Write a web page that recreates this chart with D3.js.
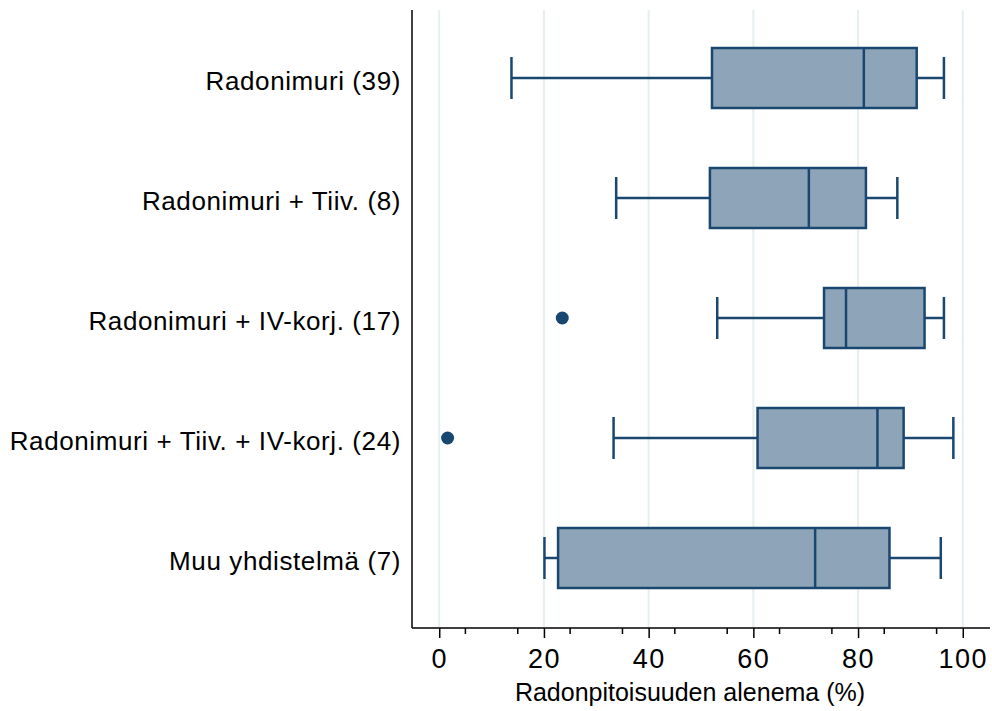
<!DOCTYPE html>
<html>
<head>
<meta charset="utf-8">
<script src="https://cdn.jsdelivr.net/npm/d3@7"></script>
<style>
  body { margin: 0; background: #fff; }
  text { font-family: "Liberation Sans", Arial, sans-serif; fill: #000; }
</style>
</head>
<body>
<svg width="992" height="711"></svg>
<script>

// groups, top to bottom
const categories = [
    "Radonimuri (39)",
    "Radonimuri + Tiiv. (8)",
    "Radonimuri + IV-korj. (17)",
    "Radonimuri + Tiiv. + IV-korj. (24)",
    "Muu yhdistelmä (7)"
];
const whiskerLow  = [13.8, 33.8, 53.1, 33.3, 20.1];
const q1          = [52.1, 51.7, 73.5, 60.8, 22.7];
const median      = [81.1, 70.6, 77.7, 83.7, 71.8];
const q3          = [91.2, 81.5, 92.7, 88.7, 86.0];
const whiskerHigh = [96.4, 87.5, 96.4, 98.2, 95.8];
const outliers    = [[], [], [23.5], [1.6], []];

const xTicks = [0, 20, 40, 60, 80, 100];
const xTitle = "Radonpitoisuuden alenema (%)";

const navy = "#1a476f";
const fill = "#8ea4b8";

const data = categories.map((c, i) => ({
    name: c,
    lo: whiskerLow[i], q1: q1[i], med: median[i], q3: q3[i], hi: whiskerHigh[i],
    out: outliers[i]
}));

const svg = d3.select("svg");
const plotLeft = 412, plotRight = 990, plotTop = 10, plotBottom = 628;

const xScale = d3.scaleLinear().domain([-5.2, 105.2]).range([plotLeft, plotRight]);
const yScale = d3.scaleBand()
    .domain(categories)
    .range([18, 618])
    .paddingInner(0.5)
    .paddingOuter(0.25);

// grid
svg.append("g")
    .selectAll("line")
    .data(xTicks)
    .enter()
    .append("line")
    .attr("x1", (d) => xScale(d))
    .attr("x2", (d) => xScale(d))
    .attr("y1", plotTop)
    .attr("y2", plotBottom)
    .attr("stroke", "#e5eef0")
    .attr("stroke-width", 2);

const boxes = svg.append("g")
    .selectAll("g")
    .data(data)
    .enter()
    .append("g")
    .attr("transform", (d) => `translate(0,${yScale(d.name)})`);

const bw = yScale.bandwidth();
const cap = bw * 0.35;

// whiskers
boxes.append("line")
    .attr("x1", (d) => xScale(d.lo))
    .attr("x2", (d) => xScale(d.q1))
    .attr("y1", bw / 2).attr("y2", bw / 2)
    .attr("stroke", navy).attr("stroke-width", 2.5);
boxes.append("line")
    .attr("x1", (d) => xScale(d.q3))
    .attr("x2", (d) => xScale(d.hi))
    .attr("y1", bw / 2).attr("y2", bw / 2)
    .attr("stroke", navy).attr("stroke-width", 2.5);
boxes.selectAll(".cap")
    .data((d) => [d.lo, d.hi])
    .enter()
    .append("line")
    .attr("class", "cap")
    .attr("x1", (v) => xScale(v))
    .attr("x2", (v) => xScale(v))
    .attr("y1", bw / 2 - cap)
    .attr("y2", bw / 2 + cap)
    .attr("stroke", navy).attr("stroke-width", 2.5);

// box
boxes.append("rect")
    .attr("x", (d) => xScale(d.q1))
    .attr("y", 0)
    .attr("width", (d) => xScale(d.q3) - xScale(d.q1))
    .attr("height", bw)
    .attr("fill", fill)
    .attr("stroke", navy)
    .attr("stroke-width", 2.5);

boxes.append("line")
    .attr("x1", (d) => xScale(d.med))
    .attr("x2", (d) => xScale(d.med))
    .attr("y1", 0).attr("y2", bw)
    .attr("stroke", navy).attr("stroke-width", 2.5);

boxes.selectAll(".out")
    .data((d) => d.out)
    .enter()
    .append("circle")
    .attr("class", "out")
    .attr("cx", (v) => xScale(v))
    .attr("cy", bw / 2)
    .attr("r", 6.5)
    .attr("fill", navy);

// category labels
svg.append("g")
    .selectAll("text")
    .data(categories)
    .enter()
    .append("text")
    .attr("x", plotLeft - 11)
    .attr("y", (d) => yScale(d) + bw / 2 + 12)
    .attr("text-anchor", "end")
    .attr("font-size", 26)
    .attr("letter-spacing", 0.6)
    .text((d) => d);

// axes
svg.append("line")
    .attr("x1", plotLeft).attr("x2", plotLeft)
    .attr("y1", plotTop).attr("y2", plotBottom)
    .attr("stroke", "#000").attr("stroke-width", 1.5);

const xAxis = svg.append("g")
    .attr("transform", `translate(0,${plotBottom})`)
    .call(d3.axisBottom(xScale).tickValues(xTicks).tickSize(10).tickPadding(11).tickFormat(d3.format("d")));
xAxis.select(".domain").attr("d", `M${plotLeft},0H${plotRight}`).attr("stroke-width", 1.5);
xAxis.selectAll(".tick line").attr("stroke-width", 1.5);
xAxis.selectAll("text")
    .attr("font-size", 27)
    .attr("letter-spacing", 1.5)
    .style("font-family", "'Liberation Sans', Arial, sans-serif")
    .attr("fill", "#000");

svg.append("g")
    .attr("transform", `translate(0,${plotBottom})`)
    .selectAll("line")
    .data(d3.range(5, 100, 10))
    .enter()
    .append("line")
    .attr("x1", (d) => xScale(d))
    .attr("x2", (d) => xScale(d))
    .attr("y1", 0).attr("y2", 6)
    .attr("stroke", "#000").attr("stroke-width", 1.5);

svg.append("text")
    .attr("x", 690)
    .attr("y", 701)
    .attr("text-anchor", "middle")
    .attr("font-size", 25)
    .text(xTitle);

</script>
</body>
</html>
